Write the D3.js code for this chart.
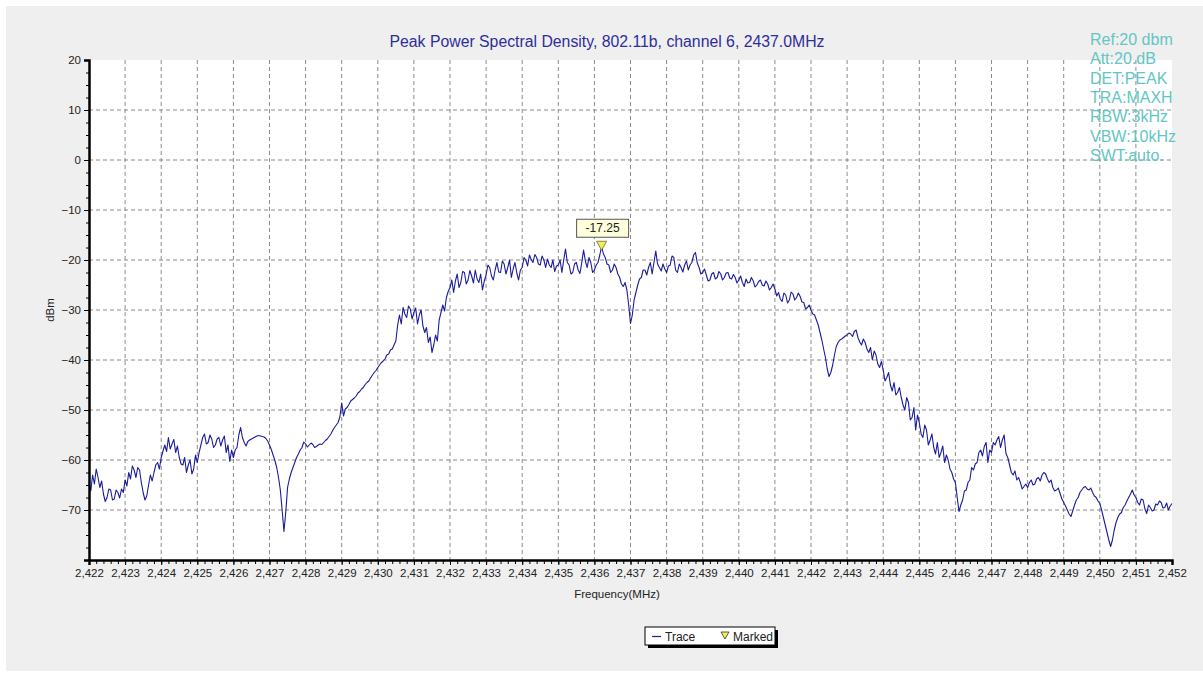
<!DOCTYPE html>
<html>
<head>
<meta charset="utf-8">
<script src="https://cdn.jsdelivr.net/npm/d3@7"></script>
<style>
  body { margin: 0; background: #fff; font-family: "Liberation Sans", Arial, sans-serif; }
  .axis text { font-size: 11.5px; fill: #222; font-family: "Liberation Sans", Arial, sans-serif; }
  .axis path, .axis line { stroke: #000; }
  .grid line { stroke: #8a8a8a; stroke-dasharray: 4,3; }
</style>
</head>
<body>
<div id="chart"></div>
<script>
// sweep settings (MHz)
var freqStart = 2422.0,
    freqStep = 0.05;

// trace values in dBm, one per sweep point (2422.00 ... 2452.00), one row per MHz
var traceDbm = [
  -64.5, -66.2, -63.0, -64.8, -61.8, -63.5, -65.5, -64.2, -66.8, -68.3, -67.5, -65.8, -66.0, -68.0, -67.8, -66.0, -66.5, -67.6, -65.8, -66.5,
  -64.0, -65.2, -62.5, -63.8, -61.2, -62.0, -63.5, -61.5, -62.0, -64.5, -66.5, -68.0, -67.2, -65.0, -63.0, -64.2, -62.5, -61.0, -60.5, -61.8,
  -59.5, -58.2, -57.0, -58.3, -55.5, -57.8, -56.8, -55.9, -58.5, -57.2, -59.5, -60.8, -61.0, -59.5, -62.5, -61.0, -60.0, -62.8, -61.8, -59.0,
  -60.5, -58.5, -57.0, -55.5, -54.8, -56.8, -56.5, -55.0, -55.8, -57.5, -57.0, -55.8, -55.5, -57.2, -56.0, -55.2, -58.5, -57.0, -60.3, -58.0,
  -59.5, -58.0, -57.5, -55.0, -53.5, -55.5, -56.5, -57.2, -56.3, -56.0, -55.8, -55.6, -55.4, -55.2, -55.1, -55.2, -55.3, -55.4, -55.7, -56.2,
  -57.0, -57.9, -59.0, -60.1, -61.5, -63.5, -66.0, -70.0, -74.3, -70.5, -65.5, -63.8, -62.5, -61.5, -60.5, -59.5, -58.8, -58.0, -57.5, -56.4,
  -56.8, -57.4, -57.0, -56.6, -56.9, -57.5, -57.3, -57.0, -56.8, -56.9, -56.5, -56.1, -55.8, -55.3, -54.8, -54.1, -53.5, -53.0, -52.5, -51.4,
  -48.6, -51.2, -49.8, -49.5, -48.9, -48.2, -47.9, -47.6, -47.2, -46.6, -46.3, -45.8, -45.5, -44.9, -44.5, -44.2, -43.6, -43.0, -42.5, -42.1,
  -41.5, -41.0, -40.5, -40.2, -39.8, -39.0, -38.8, -38.0, -37.8, -37.0, -36.2, -33.0, -31.0, -32.8, -29.5, -30.8, -31.5, -29.2, -29.8, -31.8,
  -30.5, -29.6, -32.8, -31.0, -30.0, -33.2, -34.5, -33.5, -36.5, -35.4, -38.5, -37.0, -35.0, -36.2, -32.0, -30.5, -29.0, -30.2, -27.5, -26.3,
  -25.5, -24.0, -26.5, -24.2, -22.8, -25.5, -24.5, -22.3, -22.5, -24.8, -24.0, -22.1, -23.2, -24.6, -22.0, -23.8, -24.5, -22.8, -26.0, -24.2,
  -23.0, -21.0, -21.5, -23.2, -24.0, -22.0, -20.5, -22.4, -22.5, -20.2, -20.8, -22.8, -21.5, -20.0, -23.5, -21.8, -20.5, -22.6, -24.0, -22.0,
  -21.5, -19.5, -20.0, -21.2, -19.0, -19.9, -20.5, -18.9, -19.5, -20.8, -21.0, -19.2, -20.0, -21.5, -19.8, -21.0, -21.5, -20.0, -22.3, -21.2,
  -21.0, -20.0, -22.5, -20.0, -17.8, -20.5, -21.0, -22.8, -22.5, -20.8, -20.5, -22.0, -22.7, -20.5, -18.0, -20.2, -21.5, -19.5, -20.5, -22.5,
  -22.0, -21.0, -20.5, -19.0, -17.25, -18.8, -19.5, -20.8, -21.0, -22.5, -22.0, -20.8, -21.5, -22.8, -23.5, -24.8, -25.3, -24.5, -26.0, -29.0,
  -32.7, -31.0, -28.0, -26.5, -25.0, -23.8, -23.5, -22.0, -22.0, -23.0, -21.5, -20.5, -22.8, -20.5, -18.2, -20.8, -21.5, -22.2, -20.8, -21.8,
  -22.5, -21.2, -21.0, -19.2, -19.5, -22.0, -22.5, -20.8, -21.5, -22.4, -21.0, -20.2, -22.0, -21.0, -20.5, -19.0, -18.5, -20.6, -21.5, -22.8,
  -22.5, -21.8, -23.0, -24.2, -24.0, -22.8, -22.5, -23.8, -23.5, -22.3, -22.8, -24.0, -23.5, -22.6, -22.5, -23.6, -23.8, -22.9, -23.5, -24.6,
  -24.0, -23.2, -24.5, -25.3, -23.8, -24.6, -24.5, -23.5, -24.2, -25.4, -25.0, -24.3, -24.0, -25.0, -25.2, -24.2, -24.8, -26.0, -25.5, -24.8,
  -25.8, -27.2, -26.5, -27.8, -28.3, -26.6, -27.0, -28.6, -28.0, -26.4, -26.8, -28.0, -27.5, -26.6, -27.3, -28.4, -28.5, -29.8, -29.5, -29.0,
  -30.0, -30.8, -31.0, -32.0, -33.0, -34.5, -36.0, -37.8, -39.5, -41.8, -43.3, -42.5, -41.0, -39.0, -37.3, -36.5, -36.0, -35.8, -35.5, -35.2,
  -35.0, -34.6, -34.8, -35.3, -34.3, -34.0, -35.5, -36.4, -37.0, -35.8, -36.5, -37.8, -38.5, -37.5, -40.0, -38.2, -39.0, -40.8, -41.5, -40.3,
  -42.0, -44.2, -43.5, -42.5, -45.0, -46.2, -44.5, -47.0, -46.5, -45.5, -47.5, -49.0, -50.0, -47.5, -48.5, -52.0, -51.5, -49.5, -54.0, -51.0,
  -52.5, -54.8, -55.5, -53.0, -54.0, -57.0, -56.0, -54.8, -57.5, -58.8, -56.5, -59.5, -58.5, -57.2, -60.5, -59.0, -60.0, -61.8, -62.5, -63.8,
  -64.5, -67.5, -70.3, -69.0, -68.0, -66.2, -66.0, -64.5, -64.0, -61.5, -62.0, -60.8, -60.5, -58.5, -58.0, -59.2, -57.3, -56.5, -60.5, -58.0,
  -58.5, -56.5, -57.0, -56.0, -55.3, -57.5, -56.0, -55.0, -58.7, -59.5, -61.0, -62.5, -63.0, -62.2, -64.0, -63.5, -64.5, -65.8, -65.3, -64.8,
  -65.5, -64.5, -64.0, -65.0, -64.8, -63.8, -63.5, -64.2, -63.0, -62.5, -62.8, -63.8, -64.5, -64.0, -65.5, -66.2, -66.0, -65.6, -66.7, -67.8,
  -68.5, -69.2, -70.0, -70.8, -71.3, -70.2, -69.0, -68.0, -67.5, -66.5, -66.0, -65.5, -65.3, -65.8, -66.0, -65.6, -66.5, -67.2, -67.5, -68.2,
  -68.7, -70.0, -71.5, -73.0, -74.5, -76.0, -77.3, -76.0, -74.0, -72.5, -71.5, -70.8, -70.5, -69.5, -69.0, -68.2, -67.5, -66.8, -66.0, -67.0,
  -67.5, -68.5, -69.0, -67.8, -68.0, -69.8, -70.7, -69.0, -69.5, -70.2, -70.0, -68.8, -69.0, -68.2, -68.5, -69.6, -69.5, -68.6, -70.0, -69.2,
  -68.7
];

var xTicks = [2422, 2423, 2424, 2425, 2426, 2427, 2428, 2429, 2430, 2431, 2432,
              2433, 2434, 2435, 2436, 2437, 2438, 2439, 2440, 2441, 2442,
              2443, 2444, 2445, 2446, 2447, 2448, 2449, 2450, 2451, 2452];
var yTicks = [-70, -60, -50, -40, -30, -20, -10, 0, 10, 20];

var markerFreq = 2436.2,
    markerValue = -17.25;

var settingsText = ["Ref:20 dbm", "Att:20.dB", "DET:PEAK", "TRA:MAXH",
                    "RBW:3kHz", "VBW:10kHz", "SWT:auto."];

var titleText = "Peak Power Spectral Density, 802.11b, channel 6, 2437.0MHz";

var W = 1203, H = 673;
var margin = { top: 60, right: 31, bottom: 113, left: 89 },
    width = W - margin.left - margin.right,
    height = H - margin.top - margin.bottom;

var data = traceDbm.map(function(v, i) {
    return { f: freqStart + i * freqStep, v: v };
});

var x = d3.scaleLinear().domain([2422, 2452]).range([0, width]);
var y = d3.scaleLinear().domain([-80, 20]).range([height, 0]);

var svgRoot = d3.select("#chart").append("svg")
    .attr("width", W)
    .attr("height", H);

// outer panel
svgRoot.append("rect")
    .attr("x", 6).attr("y", 6)
    .attr("width", W - 6).attr("height", H - 8)
    .attr("fill", "#efefef");

var svg = svgRoot.append("g")
    .attr("transform", "translate(" + margin.left + "," + margin.top + ")");

svg.append("rect")
    .attr("width", width)
    .attr("height", height)
    .attr("fill", "#fff");

// grid
svg.append("g")
    .attr("class", "grid")
    .selectAll("line.v")
    .data(xTicks.slice(1, -1))
    .enter().append("line")
    .attr("x1", function(d) { return x(d); })
    .attr("x2", function(d) { return x(d); })
    .attr("y1", 0)
    .attr("y2", height);

svg.append("g")
    .attr("class", "grid")
    .selectAll("line.h")
    .data(yTicks.slice(0, -1))
    .enter().append("line")
    .attr("x1", 0)
    .attr("x2", width)
    .attr("y1", function(d) { return y(d); })
    .attr("y2", function(d) { return y(d); });

// minor ticks
svg.append("g")
    .attr("class", "axis")
    .attr("transform", "translate(0," + height + ")")
    .call(d3.axisBottom(x).tickValues(d3.range(2422, 2452.01, 0.2)).tickSize(4).tickFormat(""))
    .select(".domain").remove();

svg.append("g")
    .attr("class", "axis")
    .call(d3.axisLeft(y).tickValues(d3.range(-80, 20.01, 2.5)).tickSize(3).tickFormat(""))
    .select(".domain").remove();

// trace
svg.append("path")
    .datum(data)
    .attr("fill", "none")
    .attr("stroke", "#1b1b9c")
    .attr("stroke-width", 1.1)
    .attr("stroke-linejoin", "round")
    .attr("d", d3.line()
        .x(function(d) { return x(d.f); })
        .y(function(d) { return y(d.v); }));

// main axes
var xAxis = svg.append("g")
    .attr("class", "axis")
    .attr("transform", "translate(0," + height + ")")
    .call(d3.axisBottom(x).tickValues(xTicks).tickSize(5).tickPadding(4)
        .tickFormat(d3.format(",")));
xAxis.select(".domain").attr("stroke-width", 2.5);

var yAxis = svg.append("g")
    .attr("class", "axis")
    .call(d3.axisLeft(y).tickValues(yTicks).tickSize(5).tickPadding(3));
yAxis.select(".domain").attr("stroke-width", 2.5);

// axis titles
svg.append("text")
    .attr("x", 617 - margin.left)
    .attr("y", height + 38)
    .attr("text-anchor", "middle")
    .style("font-size", "11.5px")
    .style("fill", "#222")
    .text("Frequency(MHz)");

svg.append("text")
    .attr("transform", "translate(" + (50 - margin.left) + "," + (y(-30)) + ") rotate(-90)")
    .attr("text-anchor", "middle")
    .attr("dy", "0.35em")
    .style("font-size", "11.5px")
    .style("fill", "#222")
    .text("dBm");

// title
svgRoot.append("text")
    .attr("x", 607)
    .attr("y", 47)
    .attr("text-anchor", "middle")
    .style("font-size", "15.8px")
    .style("fill", "#2e2e9a")
    .text(titleText);

// marker
var mx = x(markerFreq), my = y(markerValue);
svg.append("path")
    .attr("d", "M" + (mx - 5) + "," + (my - 5) + "L" + (mx + 5) + "," + (my - 5) + "L" + mx + "," + (my + 4) + "Z")
    .attr("fill", "#f2ee58")
    .attr("stroke", "#6a6a2a")
    .attr("stroke-width", 0.8);

var lbl = svg.append("g")
    .attr("transform", "translate(" + (mx - 25) + "," + (my - 27) + ")");
lbl.append("rect")
    .attr("width", 52).attr("height", 18)
    .attr("fill", "#ffffdc")
    .attr("stroke", "#555")
    .attr("stroke-width", 1);
lbl.append("text")
    .attr("x", 26).attr("y", 13)
    .attr("text-anchor", "middle")
    .style("font-size", "12px")
    .style("fill", "#222")
    .text(markerValue.toFixed(2));

// settings block
svgRoot.append("g")
    .selectAll("text")
    .data(settingsText)
    .enter().append("text")
    .attr("x", 1090)
    .attr("y", function(d, i) { return 45 + i * 19.3; })
    .style("font-size", "16px")
    .style("fill", "#63c6c4")
    .text(function(d) { return d; });

// legend
var lg = svgRoot.append("g").attr("transform", "translate(645,627)");
lg.append("rect")
    .attr("x", 3).attr("y", 3)
    .attr("width", 130).attr("height", 18)
    .attr("fill", "#000");
lg.append("rect")
    .attr("width", 130).attr("height", 18)
    .attr("fill", "#fff")
    .attr("stroke", "#000");
lg.append("line")
    .attr("x1", 7).attr("x2", 16)
    .attr("y1", 9.5).attr("y2", 9.5)
    .attr("stroke", "#1b1b9c")
    .attr("stroke-width", 1.2);
lg.append("text")
    .attr("x", 20).attr("y", 13.5)
    .style("font-size", "12px")
    .style("fill", "#222")
    .text("Trace");
lg.append("path")
    .attr("d", "M76,5L84,5L80,12Z")
    .attr("fill", "#f2ee58")
    .attr("stroke", "#333")
    .attr("stroke-width", 0.8);
lg.append("text")
    .attr("x", 88).attr("y", 13.5)
    .style("font-size", "12px")
    .style("fill", "#222")
    .text("Marked");
</script>
</body>
</html>
